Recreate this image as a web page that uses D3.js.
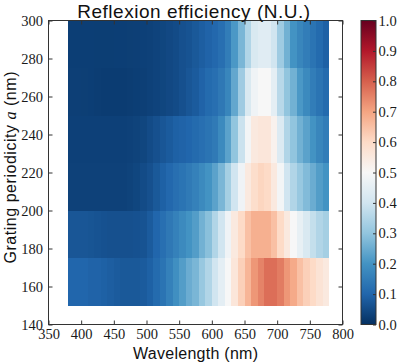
<!DOCTYPE html>
<html>
<head>
<meta charset="utf-8">
<script src="https://cdn.jsdelivr.net/npm/d3@7"></script>
<style>
    body { margin: 0; background: #fff; }
    .tick line { stroke: #333; }
    .title { font-family: 'Liberation Sans', Arial, sans-serif; font-size: 19px; text-anchor: middle; fill: #111; }
    .axis-label { font-family: 'Liberation Sans', Arial, sans-serif; font-size: 16px; text-anchor: middle; fill: #111; }
</style>
</head>
<body>
<div id="heatmap"></div>
<script>
const container_id = 'heatmap';
const width = 399, height = 362;
const plot = { left: 48.5, right: 342.5, top: 20.5, bottom: 324.5 };
const bar = { left: 361, right: 376 };

// wavelength bins (start of each 10 nm bin)
const wavelengths = [380, 390, 400, 410, 420, 430, 440, 450, 460, 470,
                     480, 490, 500, 510, 520, 530, 540, 550, 560, 570,
                     580, 590, 600, 610, 620, 630, 640, 650, 660, 670,
                     680, 690, 700, 710, 720, 730, 740, 750, 760, 770];
const binWidth = 10;
// grating periodicity rows (lower edge of each 25 nm row)
const periodicities = [150, 175, 200, 225, 250, 275];
const rowHeight = 25;

const eff150 = [0.10, 0.10, 0.10, 0.095, 0.095, 0.09, 0.085, 0.08, 0.075, 0.075,
                0.075, 0.08, 0.09, 0.11, 0.13, 0.16, 0.19, 0.22, 0.25, 0.27,
                0.31, 0.35, 0.40, 0.45, 0.50, 0.56, 0.62, 0.67, 0.72, 0.75,
                0.78, 0.78, 0.76, 0.72, 0.69, 0.65, 0.62, 0.60, 0.57, 0.55];
const eff175 = [0.07, 0.07, 0.07, 0.068, 0.065, 0.062, 0.06, 0.06, 0.06, 0.06,
                0.062, 0.065, 0.08, 0.10, 0.12, 0.14, 0.16, 0.18, 0.20, 0.22,
                0.26, 0.29, 0.35, 0.40, 0.48, 0.55, 0.60, 0.65, 0.68, 0.68,
                0.68, 0.65, 0.60, 0.55, 0.50, 0.46, 0.42, 0.38, 0.35, 0.33];
const eff200 = [0.032, 0.032, 0.032, 0.032, 0.032, 0.032, 0.032, 0.032, 0.032, 0.035,
                0.04, 0.05, 0.06, 0.075, 0.09, 0.105, 0.12, 0.13, 0.145, 0.16,
                0.18, 0.20, 0.23, 0.27, 0.33, 0.40, 0.48, 0.55, 0.59, 0.61,
                0.60, 0.55, 0.49, 0.40, 0.35, 0.31, 0.28, 0.25, 0.22, 0.20];
const eff225 = [0.03, 0.03, 0.03, 0.03, 0.03, 0.03, 0.03, 0.03, 0.03, 0.032,
                0.035, 0.04, 0.05, 0.06, 0.07, 0.08, 0.09, 0.095, 0.10, 0.11,
                0.12, 0.13, 0.145, 0.18, 0.23, 0.30, 0.39, 0.49, 0.55, 0.56,
                0.56, 0.52, 0.43, 0.35, 0.30, 0.26, 0.23, 0.20, 0.17, 0.15];
const eff250 = [0.028, 0.028, 0.027, 0.026, 0.024, 0.022, 0.022, 0.022, 0.022, 0.024,
                0.026, 0.028, 0.032, 0.036, 0.04, 0.045, 0.05, 0.06, 0.07, 0.08,
                0.095, 0.11, 0.12, 0.14, 0.17, 0.24, 0.32, 0.42, 0.48, 0.50,
                0.50, 0.45, 0.36, 0.30, 0.26, 0.21, 0.18, 0.15, 0.13, 0.11];
const eff275 = [0.026, 0.026, 0.026, 0.026, 0.025, 0.025, 0.025, 0.026, 0.026, 0.027,
                0.028, 0.03, 0.032, 0.036, 0.04, 0.045, 0.05, 0.06, 0.065, 0.075,
                0.085, 0.095, 0.105, 0.12, 0.15, 0.21, 0.27, 0.35, 0.42, 0.44,
                0.44, 0.40, 0.32, 0.26, 0.20, 0.17, 0.15, 0.13, 0.11, 0.09];
const efficiencyRows = [eff150, eff175, eff200, eff225, eff250, eff275];

const xTicks = [350, 400, 450, 500, 550, 600, 650, 700, 750, 800];
const yTicks = [140, 160, 180, 200, 220, 240, 260, 280, 300];
const barTicks = [0.0, 0.1, 0.2, 0.3, 0.4, 0.5, 0.6, 0.7, 0.8, 0.9, 1.0];

// matplotlib RdBu_r anchor colours
const rdbuColors = ['#053061', '#2166ac', '#4393c3', '#92c5de', '#d1e5f0', '#f7f7f7',
                    '#fddbc7', '#f4a582', '#d6604d', '#b2182b', '#67001f'];

const tickFont = "'Liberation Serif', 'Times New Roman', serif";

const xScale = d3.scaleLinear().domain([350, 800]).range([plot.left, plot.right]);
const yScale = d3.scaleLinear().domain([140, 300]).range([plot.bottom, plot.top]);
const barScale = d3.scaleLinear().domain([0, 1]).range([plot.bottom, plot.top]);
const colorScale = d3.scaleLinear()
    .domain(rdbuColors.map((c, i) => i / 10))
    .range(rdbuColors)
    .interpolate(d3.interpolateRgb)
    .clamp(true);

function styleTicks(g) {
    g.select('.domain').remove();
    g.attr('font-family', tickFont).attr('font-size', 14.5);
    g.selectAll('.tick text')
        .style('font-family', tickFont)
        .style('font-size', '14.5px')
        .style('fill', '#1a1a1a');
}

function drawCells(svg) {
    const cells = [];
    periodicities.forEach((p, r) => {
        wavelengths.forEach((w, c) => {
            cells.push({ p: p, w: w, v: efficiencyRows[r][c] });
        });
    });

    svg.append('g')
        .selectAll('rect')
        .data(cells)
        .enter().append('rect')
        .attr('x', d => xScale(d.w))
        .attr('y', d => yScale(d.p + rowHeight))
        .attr('width', d => xScale(d.w + binWidth) - xScale(d.w))
        .attr('height', d => yScale(d.p) - yScale(d.p + rowHeight))
        .attr('shape-rendering', 'crispEdges')
        .style('fill', d => colorScale(d.v));
}

function drawAxes(svg) {
    svg.append('g')
        .attr('transform', 'translate(0,' + plot.bottom + ')')
        .call(d3.axisBottom(xScale).tickValues(xTicks).tickSizeInner(-4).tickSizeOuter(0).tickPadding(4))
        .call(styleTicks);

    svg.append('g')
        .attr('transform', 'translate(0,' + plot.top + ')')
        .call(d3.axisTop(xScale).tickValues(xTicks).tickSizeInner(-4).tickSizeOuter(0).tickFormat(''))
        .call(styleTicks);

    svg.append('g')
        .attr('transform', 'translate(' + plot.left + ',0)')
        .call(d3.axisLeft(yScale).tickValues(yTicks).tickSizeInner(-4).tickSizeOuter(0).tickPadding(5.5))
        .call(styleTicks);

    svg.append('g')
        .attr('transform', 'translate(' + plot.right + ',0)')
        .call(d3.axisRight(yScale).tickValues(yTicks).tickSizeInner(-4).tickSizeOuter(0).tickFormat(''))
        .call(styleTicks);

    svg.append('rect')
        .attr('x', plot.left)
        .attr('y', plot.top)
        .attr('width', plot.right - plot.left)
        .attr('height', plot.bottom - plot.top)
        .style('fill', 'none')
        .style('stroke', '#333')
        .style('stroke-width', 1);
}

function drawColorbar(svg) {
    const grad = svg.append('defs').append('linearGradient')
        .attr('id', 'rdbu')
        .attr('x1', 0).attr('y1', 1).attr('x2', 0).attr('y2', 0);
    grad.selectAll('stop')
        .data(rdbuColors)
        .enter().append('stop')
        .attr('offset', (d, i) => (i * 10) + '%')
        .attr('stop-color', d => d);

    svg.append('rect')
        .attr('x', bar.left)
        .attr('y', plot.top)
        .attr('width', bar.right - bar.left)
        .attr('height', plot.bottom - plot.top)
        .style('fill', 'url(#rdbu)')
        .style('stroke', '#333')
        .style('stroke-width', 1);

    svg.append('g')
        .attr('transform', 'translate(' + bar.right + ',0)')
        .call(d3.axisRight(barScale).tickValues(barTicks).tickFormat(d3.format('.1f'))
            .tickSizeInner(-3).tickSizeOuter(0).tickPadding(2.5))
        .call(styleTicks);
}

function drawHeatmap() {
    const svg = d3.select('#' + container_id)
        .append('svg')
        .attr('width', width)
        .attr('height', height);

    drawCells(svg);
    drawAxes(svg);
    drawColorbar(svg);

    svg.append('text')
        .attr('class', 'title')
        .attr('x', 193.7)
        .attr('y', 18.3)
        .attr('textLength', 233)
        .attr('lengthAdjust', 'spacing')
        .text('Reflexion efficiency (N.U.)');

    svg.append('text')
        .attr('class', 'axis-label')
        .attr('x', 195.5)
        .attr('y', 359)
        .attr('textLength', 125)
        .attr('lengthAdjust', 'spacing')
        .text('Wavelength (nm)');

    const ylab = svg.append('text')
        .attr('class', 'axis-label')
        .attr('transform', 'translate(16,167.5) rotate(-90)')
        .attr('textLength', 192)
        .attr('lengthAdjust', 'spacing');
    ylab.append('tspan').text('Grating periodicity ');
    ylab.append('tspan')
        .style('font-family', "'Liberation Serif', serif")
        .style('font-style', 'italic')
        .text('a');
    ylab.append('tspan').text(' (nm)');
}

drawHeatmap();
</script>
</body>
</html>
